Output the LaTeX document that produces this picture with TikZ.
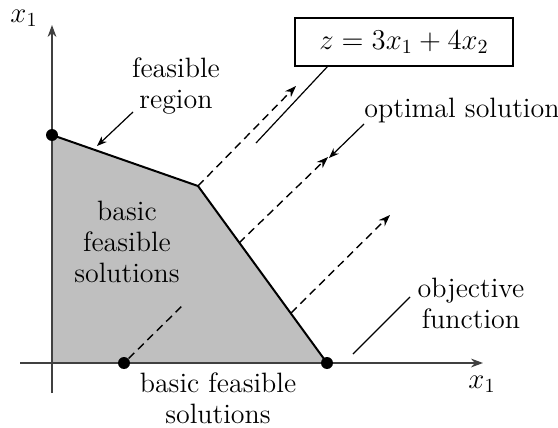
\documentclass[tikz,border=0pt]{standalone}
\usetikzlibrary{arrows.meta}
\begin{document}
\begin{tikzpicture}[x=0.5pt,y=-0.5pt,
  every node/.style={font=\fontsize{14}{15.5}\selectfont},
  axis/.style={draw=black!75,line width=0.75pt,-{Stealth[length=6pt,width=4.4pt]}},
  edge/.style={draw=black,line width=1pt,line join=miter},
  regionfill/.style={fill=black!25},
  dot/.style={circle,fill=black,inner sep=0pt,minimum size=6pt},
  dasharrow/.style={draw=black,line width=0.7pt,dash pattern=on 4pt off 2.6pt,-{Stealth[length=5.8pt,width=4.2pt]}},
  dashline/.style={draw=black,line width=0.7pt,dash pattern=on 4pt off 2.6pt},
  pointer/.style={draw=black,line width=0.6pt},
  pointerarrow/.style={draw=black,line width=0.6pt,-{Stealth[length=5pt,width=3.8pt]}},
  label/.style={align=center,inner sep=0pt},
  formulabox/.style={draw=black,line width=0.7pt,minimum width=109pt,minimum height=24pt,inner sep=0pt}]
\useasboundingbox (0,0) rectangle (558,428);
% key coordinates
\coordinate (O) at (52,363);
\coordinate (A) at (52,135);
\coordinate (B) at (198,186);
\coordinate (C) at (327,363);
\coordinate (Ytop) at (52,25);
\coordinate (Ybot) at (52,393);
\coordinate (Xleft) at (20,363);
\coordinate (Xright) at (483,363);
% feasible region
\fill[regionfill] (O) -- (A) -- (B) -- (C) -- cycle;
\draw[axis] (Ybot) -- (Ytop);
\draw[axis] (Xleft) -- (Xright);
\draw[edge] (A) -- (B) -- (C);
% dots
\node[dot] (dA) at (A) {};
\node[dot] (dD) at (124,363) {};
\node[dot] (dC) at (C) {};
% axis labels
\node[label] (ylab) at (24,18) {$x_1$};
\node[label] (xlab) at (482,384) {$x_1$};
% objective function lines
\coordinate (s2) at (239,243);
\coordinate (s3) at (291,313);
\coordinate (t1) at (296,86);
\coordinate (t2) at (328,157);
\coordinate (t3) at (390,215);
\coordinate (t4) at (182,306);
\draw[dasharrow] (B) -- (t1);
\draw[dasharrow] (s2) -- (t2);
\draw[dasharrow] (s3) -- (t3);
\draw[dashline] (dD) -- (t4);
% box
\node[formulabox] (box) at (404,42) {$z = 3x_1 + 4x_2$};
\coordinate (boxfoot) at (328,66);
\coordinate (boxend) at (256,143);
\draw[pointer] (boxfoot) -- (boxend);
% labels
\node[label] (feas) at (176,86) {feasible\\region};
\coordinate (feasfrom) at (133,112);
\coordinate (feasto) at (97,146);
\draw[pointerarrow] (feasfrom) -- (feasto);
\node[label,anchor=west] (opt) at (364,110) {optimal solution};
\coordinate (optfrom) at (364,124);
\coordinate (optto) at (329,158);
\draw[pointerarrow] (optfrom) -- (optto);
\node[label] (bfs1) at (127,242) {basic\\feasible\\solutions};
\node[label] (bfs2) at (218,398) {basic feasible\\solutions};
\node[label] (obj) at (471,303) {objective\\function};
\coordinate (objfrom) at (410,297);
\coordinate (objto) at (353,354);
\draw[pointer] (objfrom) -- (objto);
\end{tikzpicture}
\end{document}
